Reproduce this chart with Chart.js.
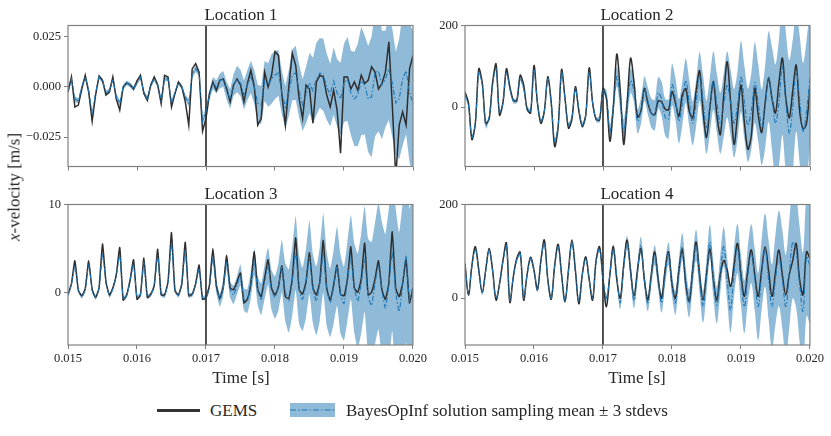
<!DOCTYPE html>
<html>
<head>
<meta charset="utf-8">
<script src="https://cdn.jsdelivr.net/npm/chart.js@4.4.0/dist/chart.umd.min.js"></script>
<style>
  body { margin: 0; background: #fff; width: 831px; height: 436px; position: relative; overflow: hidden;
         font-family: "Liberation Serif", serif; color: #262626; }
  canvas { position: absolute; }
  .txt { position: absolute; transform: translate(-50%, -50%); white-space: nowrap; font-size: 17px; line-height: 1; }
  .ylab { position: absolute; left: 14px; top: 187px; transform: translate(-50%, -50%) rotate(-90deg); white-space: nowrap; font-size: 17px; line-height: 1; }
  .leg { position: absolute; top: 410px; transform: translateY(-50%); white-space: nowrap; font-size: 17px; line-height: 1; }
</style>
</head>
<body>
<canvas id="c1" width="429" height="162" style="left:0;top:15px"></canvas>
<canvas id="c2" width="411" height="162" style="left:415px;top:15px"></canvas>
<canvas id="c3" width="429" height="176" style="left:0;top:194px"></canvas>
<canvas id="c4" width="411" height="176" style="left:415px;top:194px"></canvas>

<div class="txt" id="t1" style="left:241px;top:14px"></div>
<div class="txt" id="t2" style="left:637px;top:14px"></div>
<div class="txt" id="t3" style="left:241px;top:193px"></div>
<div class="txt" id="t4" style="left:637px;top:193px"></div>
<div class="txt" style="left:241px;top:377px">Time [s]</div>
<div class="txt" style="left:637px;top:377px">Time [s]</div>
<div class="ylab"><i>x</i>-velocity [m/s]</div>

<div style="position:absolute;left:157px;top:409px;width:43px;height:2.5px;background:#333"></div>
<div class="leg" style="left:210px">GEMS</div>
<svg style="position:absolute;left:290px;top:403px" width="45" height="14">
  <rect x="0" y="0" width="45" height="14" fill="rgba(31,119,180,0.5)"/>
  <line x1="0" y1="7" x2="45" y2="7" stroke="#1f77b4" stroke-width="1.2" stroke-dasharray="6 2 1.5 2"/>
</svg>
<div class="leg" style="left:346px">BayesOpInf solution sampling mean ± 3 stdevs</div>

<script>
const titles = ['Location 1', 'Location 2', 'Location 3', 'Location 4'];
const xTicks = [0.015, 0.016, 0.017, 0.018, 0.019, 0.020];
const splitTime = 0.017;
// sample times, 0.05 ms apart
const times = Array.from({ length: 101 }, (_, k) => 0.015 + k * 0.00005);

const loc1Range = [-0.0396, 0.0306];
const loc1YTicks = [-0.025, 0, 0.025];
const loc1Gems = [
  -0.0025, 0.005, -0.010, -0.009, -0.001, 0.0058, -0.0025, -0.017, -0.004, 0.0055,
  0.0033, -0.004, -0.0025, 0.005, -0.006, -0.0115, 0.000, 0.002, 0.001, -0.001,
  0.003, 0.0058, -0.0033, -0.0066, 0.001, 0.005, 0.001, -0.0083, 0.0058, 0.005,
  -0.0099, -0.0033, 0.0025, 0.000, -0.0074, -0.019, 0.009, 0.0116, 0.0074, -0.022,
  -0.0157, -0.0033, 0.0025, -0.0017, 0.0033, 0.004, -0.001, -0.0074, 0.001, 0.004,
  0.001, -0.0074, 0.0017, 0.0083, 0.000, -0.019, -0.0157, 0.0074, 0.000, 0.0058,
  0.0176, 0.0157, -0.004, -0.019, 0.000, 0.0168, 0.0107, -0.006, -0.0157, 0.001,
  -0.001, -0.018, 0.0025, 0.0058, 0.005, -0.004, -0.0099, -0.0017, -0.0115, -0.033,
  0.005, 0.005, -0.001, 0.0025, -0.0017, 0.0058, 0.0017, 0.0033, 0.010, 0.0074,
  -0.001, 0.0017, 0.0074, 0.0225, -0.009, -0.045, -0.019, -0.0124, -0.019, 0.009,
  0.0157
];
const loc1Mean = [
  -0.002, 0.004, -0.006, -0.007, 0.000, 0.005, -0.002, -0.014, -0.003, 0.005,
  0.003, -0.003, -0.002, 0.004, -0.005, -0.008, 0.000, 0.002, 0.001, -0.001,
  0.002, 0.005, -0.003, -0.006, 0.001, 0.004, 0.001, -0.007, 0.004, 0.004,
  -0.008, -0.003, 0.002, 0.000, -0.005, -0.008, 0.006, 0.009, 0.007, -0.017,
  -0.012, -0.004, 0.002, 0.000, 0.003, 0.004, -0.002, -0.006, 0.001, 0.004,
  0.002, -0.004, 0.001, 0.005, 0.000, -0.008, -0.009, 0.003, 0.001, 0.004,
  0.006, 0.007, -0.003, -0.010, -0.003, 0.006, 0.007, -0.002, -0.009, -0.004,
  0.002, -0.002, 0.004, 0.007, 0.006, 0.000, -0.004, 0.003, -0.003, -0.006,
  0.002, 0.004, -0.003, -0.006, -0.004, 0.003, 0.001, -0.006, -0.005, 0.007,
  0.008, 0.001, 0.004, 0.009, 0.002, -0.008, -0.006, 0.004, 0.008, -0.003,
  -0.008
];
const loc1Std = [
  0.0004, 0.0004, 0.0005, 0.0004, 0.0004, 0.0004, 0.0005, 0.0005, 0.0004, 0.0004,
  0.0004, 0.0004, 0.0004, 0.0004, 0.0005, 0.0005, 0.0004, 0.0004, 0.0004, 0.0004,
  0.0004, 0.0004, 0.0004, 0.0005, 0.0004, 0.0004, 0.0004, 0.0005, 0.0004, 0.0004,
  0.0005, 0.0004, 0.0004, 0.0004, 0.0004, 0.0006, 0.0005, 0.0005, 0.0005, 0.0007,
  0.0007, 0.0008, 0.001, 0.0011, 0.0012, 0.0013, 0.0015, 0.0016, 0.0018, 0.0022,
  0.0022, 0.0024, 0.0025, 0.0027, 0.0028, 0.003, 0.0032, 0.0033, 0.0036, 0.0041,
  0.004, 0.0038, 0.0036, 0.0035, 0.0038, 0.0042, 0.0045, 0.0044, 0.0043, 0.0047,
  0.005, 0.0055, 0.006, 0.0058, 0.006, 0.0055, 0.0052, 0.0056, 0.0056, 0.006,
  0.0065, 0.007, 0.007, 0.0078, 0.0085, 0.009, 0.0082, 0.0088, 0.010, 0.0105,
  0.010, 0.009, 0.008, 0.0085, 0.009, 0.0085, 0.010, 0.011, 0.0105, 0.0115,
  0.012
];

const loc2Range = [-146, 200];
const loc2YTicks = [0, 200];
const loc2Gems = [
  37, 10, -80, -40, 94, 60, -40, -30, 60, 106,
  -20, 10, 94, 50, 17, 15, 78, 54, -5, -15,
  102, 10, -40, -10, 74, 10, -97, -50, 92, 20,
  -52, -30, 50, -10, -48, -20, 96, 10, -30, -32,
  45, 20, -84, 0, 130, 40, -92, 10, 120, 60,
  -25, -10, 46, 10, -15, -19, 15, 12, -5, -7,
  38, 10, -23, 30, 45, -10, -27, 40, 89, -10,
  -75, 0, 62, -20, -68, 30, 111, 10, -92, -20,
  54, -40, -104, -70, 46, -20, -63, 10, 71, 20,
  -15, 60, 120, 20, -27, 40, 103, -10, -54, -40,
  50
];
const loc2Mean = [
  30, 5, -75, -40, 85, 55, -45, -25, 55, 95,
  -15, 10, 85, 45, 15, 15, 70, 45, -5, -10,
  90, 10, -35, -10, 70, 10, -85, -45, 85, 20,
  -45, -25, 45, -5, -45, -20, 85, 10, -30, -30,
  40, 30, -60, 0, 75, 20, -60, 0, 65, 40,
  -35, -10, 45, 15, -15, -20, 35, 20, -25, -30,
  55, 20, -35, 10, 65, 10, -40, 10, 75, 15,
  -50, 5, 65, 10, -40, 5, 55, 10, -40, 5,
  75, 10, -45, -10, 60, 10, -50, 0, 75, 20,
  -40, 10, 100, 10, -65, 0, 90, 20, -60, -10,
  75
];
const loc2Std = [
  2, 2, 2.5, 2, 2, 2, 2.5, 2, 2, 2,
  2, 2, 2, 2.5, 2, 2, 2, 2, 2, 2,
  2, 2.5, 2, 2, 2, 2, 2.5, 2, 2, 2,
  2, 2, 2, 2, 2.5, 2, 2, 2, 2, 2.5,
  2.7, 3.5, 5, 6.5, 8, 9, 10, 10, 10, 10,
  10, 10.5, 10, 11, 12, 12.5, 13, 14, 15, 16,
  17, 17, 18, 18, 18, 19, 18, 19, 20, 21,
  22, 23, 24, 24, 25, 26, 27, 27, 28, 28,
  29, 30, 30, 31, 33, 32, 31, 34, 37, 42,
  48, 52, 56, 58, 60, 55, 50, 52, 56, 58,
  57
];

const loc3Range = [-6, 10];
const loc3YTicks = [0, 10];
const loc3Gems = [
  -0.3, 1.0, 3.6, 0.2, -0.4, 0.4, 3.6, 0.3, -0.6, 0.5,
  5.5, 1.2, -0.3, 0.5, 2.0, 5.1, -0.9, -0.3, 1.4, 3.7,
  -0.8, -0.3, 3.9, -0.6, -0.2, 0.8, 4.9, -0.3, -0.3, 1.2,
  6.8, 0.2, -0.3, 1.0, 5.7, -0.4, -0.2, 1.0, 3.1, -0.8,
  -0.6, 0.8, 5.0, 0.8, -0.7, 0.6, 4.2, 0.5, 0.3, 1.2,
  2.2, -1.2, -0.8, 1.0, 4.6, 0.3, -0.5, 1.6, 3.7, 0.5,
  -0.3, 0.6, 3.0, -0.5, -0.7, 1.5, 6.2, 0.3, -0.2, 1.2,
  4.5, 0.5, -0.3, 1.2, 5.9, 0.5, -0.9, 0.8, 3.1, -0.2,
  -0.4, 1.5, 5.2, 0.5, 0.0, 1.5, 5.6, -0.3, 0.0, 1.5,
  3.6, 0.3, -0.8, 1.0, 6.9, 0.5, -0.5, 1.0, 3.7, -1.2,
  0.5
];
const loc3Mean = [
  -0.3, 0.9, 3.0, 0.3, -0.5, 0.3, 3.2, 0.3, -0.6, 0.4,
  4.4, 1.2, -0.4, 0.4, 1.9, 4.3, -0.7, -0.4, 1.3, 3.2,
  -0.6, -0.3, 3.4, -0.5, -0.3, 0.7, 4.2, -0.2, -0.4, 1.1,
  5.6, 0.3, -0.4, 0.9, 4.8, -0.3, -0.3, 0.9, 2.7, -0.6,
  -0.6, 0.6, 4.0, 0.7, -0.9, 0.5, 3.5, 0.3, -0.3, 0.8,
  2.0, -0.8, -1.0, 0.8, 3.5, 0.2, -0.8, 1.2, 3.0, 0.3,
  -0.6, 0.6, 3.0, 0.0, -1.0, 1.2, 4.5, 0.3, -0.8, 1.0,
  4.0, 0.4, -1.0, 1.0, 4.5, 0.4, -1.2, 0.6, 3.0, -0.2,
  -1.3, 1.2, 4.0, 0.5, -1.0, 1.0, 3.8, -0.5, -1.5, 1.0,
  3.0, 0.2, -1.8, 0.8, 4.6, 0.0, -2.2, 0.8, 4.2, -1.0,
  0.6
];
const loc3Std = [
  0.08, 0.08, 0.1, 0.08, 0.08, 0.08, 0.1, 0.08, 0.08, 0.08,
  0.1, 0.08, 0.08, 0.08, 0.08, 0.1, 0.08, 0.08, 0.08, 0.1,
  0.08, 0.08, 0.1, 0.08, 0.08, 0.08, 0.1, 0.08, 0.08, 0.08,
  0.12, 0.08, 0.08, 0.08, 0.1, 0.08, 0.08, 0.08, 0.1, 0.08,
  0.1, 0.15, 0.2, 0.25, 0.25, 0.3, 0.3, 0.3, 0.35, 0.35,
  0.4, 0.42, 0.45, 0.5, 0.5, 0.55, 0.6, 0.65, 0.7, 0.75,
  0.8, 0.9, 1.0, 1.1, 1.2, 1.3, 1.4, 1.3, 1.2, 1.3,
  1.4, 1.3, 1.3, 1.4, 1.5, 1.4, 1.3, 1.4, 1.5, 1.5,
  1.4, 1.5, 1.6, 1.7, 1.8, 1.9, 2.0, 2.2, 2.4, 2.3,
  2.4, 2.6, 2.8, 2.9, 3.0, 3.2, 3.0, 3.1, 3.3, 3.5,
  3.6
];

const loc4Range = [-100, 200];
const loc4YTicks = [0, 200];
const loc4Gems = [
  74, 7, 70, 110, 60, 12, 60, 106, 60, -4,
  30, 80, 118, -9, 45, 85, 98, -4, 50, 87,
  60, 18, 80, 124, 40, -2, 70, 115, 50, -7,
  60, 124, 60, -12, 50, 88, 40, -4, 80, 110,
  40, -18, 50, 110, 40, 0, 70, 124, 60, 5,
  60, 106, 40, -4, 50, 99, 40, 0, 60, 99,
  30, 0, 60, 104, 30, -7, 60, 120, 50, -4,
  50, 105, 40, -4, 50, 80, 60, 25, 70, 117,
  50, 4, 60, 103, 50, 4, 60, 110, 60, 4,
  55, 103, 50, 7, 50, 80, 117, 40, 7, 99,
  85
];
const loc4Mean = [
  70, 10, 68, 105, 58, 12, 58, 102, 58, 0,
  30, 78, 112, -5, 45, 82, 95, 0, 50, 85,
  58, 18, 78, 118, 40, 0, 68, 110, 50, -5,
  58, 118, 58, -8, 50, 85, 40, 0, 78, 105,
  45, 0, 50, 105, 45, -10, 65, 118, 55, -5,
  55, 113, 40, -10, 45, 92, 40, -10, 50, 95,
  30, -10, 55, 110, 35, -11, 55, 113, 45, -18,
  45, 120, 40, -15, 50, 110, 40, -25, 55, 106,
  40, -18, 50, 95, 40, -18, 50, 103, 40, -18,
  40, 85, 40, -18, 50, 120, 100, 30, -28, 88,
  70
];
const loc4Std = [
  1.7, 1.7, 1.7, 2, 1.7, 1.7, 1.7, 2, 1.7, 1.7,
  1.7, 1.7, 2, 1.7, 1.7, 1.7, 2, 1.7, 1.7, 1.7,
  1.7, 1.7, 1.7, 2, 1.7, 1.7, 1.7, 2, 1.7, 1.7,
  1.7, 2, 1.7, 1.7, 1.7, 1.7, 2, 1.7, 1.7, 1.7,
  2, 2.5, 3, 3.5, 4, 4.5, 5, 5, 5, 5.5,
  6, 6, 6, 6, 6.5, 7, 7, 7, 7.5, 8,
  8, 8.5, 9, 9.5, 10, 10, 10.5, 11, 11, 11.5,
  12, 12, 12.5, 13, 13.5, 14, 15, 16, 17, 17.5,
  18, 19, 20, 21, 22, 24, 25, 26, 28, 30,
  32, 34, 35, 37, 38, 40, 40, 41, 42, 42,
  42
];

Chart.defaults.font.family = '"Liberation Serif", serif';
Chart.defaults.color = '#262626';

// matplotlib-style box round each axes
const frame = {
  id: 'frame',
  afterDatasetsDraw(chart) {
    const { ctx, chartArea: a } = chart;
    ctx.save();
    ctx.strokeStyle = '#808080';
    ctx.lineWidth = 1.2;
    ctx.strokeRect(a.left, a.top, a.right - a.left, a.bottom - a.top);
    ctx.restore();
  }
};

const toXY = (arr) => arr.map((y, k) => ({ x: times[k], y }));

const panels = [
  { id: 'c1', gems: loc1Gems, mean: loc1Mean, std: loc1Std, range: loc1Range, yTicks: loc1YTicks,
    fmt: (v) => v.toFixed(3).replace('-', '\u2212'), yWidth: 68, xLabels: false, tension: 0 },
  { id: 'c2', gems: loc2Gems, mean: loc2Mean, std: loc2Std, range: loc2Range, yTicks: loc2YTicks,
    fmt: (v) => String(v), yWidth: 50, xLabels: false, tension: 0.3 },
  { id: 'c3', gems: loc3Gems, mean: loc3Mean, std: loc3Std, range: loc3Range, yTicks: loc3YTicks,
    fmt: (v) => String(v), yWidth: 68, xLabels: true, tension: 0.15 },
  { id: 'c4', gems: loc4Gems, mean: loc4Mean, std: loc4Std, range: loc4Range, yTicks: loc4YTicks,
    fmt: (v) => String(v), yWidth: 50, xLabels: true, tension: 0.35 },
];

panels.forEach((p, n) => {
  document.getElementById('t' + (n + 1)).textContent = titles[n];
  const lo = p.mean.map((m, k) => m - 3 * p.std[k]);
  const hi = p.mean.map((m, k) => m + 3 * p.std[k]);

  new Chart(document.getElementById(p.id), {
    type: 'line',
    data: {
      datasets: [
        {
          data: toXY(p.mean),
          borderColor: '#1f77b4',
          borderWidth: 1.1,
          borderDash: [5, 2, 1.5, 2],
          tension: p.tension,
          order: 0
        },
        {
          data: toXY(p.gems),
          borderColor: '#2e2e2e',
          borderWidth: 1.5,
          tension: p.tension,
          order: 1
        },
        {
          data: [{ x: splitTime, y: p.range[0] }, { x: splitTime, y: p.range[1] }],
          borderColor: '#1a1a1a',
          borderWidth: 1.5,
          order: 2
        },
        {
          data: toXY(lo),
          borderWidth: 0,
          tension: p.tension,
          order: 3
        },
        {
          data: toXY(hi),
          borderWidth: 0,
          tension: p.tension,
          fill: 3,
          backgroundColor: 'rgba(31, 119, 180, 0.5)',
          order: 4
        }
      ]
    },
    options: {
      responsive: false,
      animation: false,
      events: [],
      layout: { padding: { top: 10, right: 16, left: 0, bottom: 0 } },
      elements: { point: { radius: 0 } },
      plugins: { legend: { display: false }, tooltip: { enabled: false } },
      scales: {
        x: {
          type: 'linear',
          min: xTicks[0],
          max: xTicks[xTicks.length - 1],
          afterBuildTicks: (s) => { s.ticks = xTicks.map((value) => ({ value })); },
          afterFit: (s) => { s.height = p.xLabels ? 25 : 10; },
          border: { display: false },
          grid: { drawOnChartArea: false, tickLength: 4, color: '#808080', tickWidth: 1 },
          ticks: {
            display: p.xLabels,
            autoSkip: false,
            maxRotation: 0,
            padding: 2,
            font: { size: 12.5 },
            callback: (v) => v.toFixed(3)
          }
        },
        y: {
          min: p.range[0],
          max: p.range[1],
          afterBuildTicks: (s) => { s.ticks = p.yTicks.map((value) => ({ value })); },
          afterFit: (s) => { s.width = p.yWidth; },
          border: { display: false },
          grid: { drawOnChartArea: false, tickLength: 4, color: '#808080', tickWidth: 1 },
          ticks: { padding: 3, font: { size: 12.5 }, callback: p.fmt }
        }
      }
    },
    plugins: [frame]
  });
});
</script>
</body>
</html>
